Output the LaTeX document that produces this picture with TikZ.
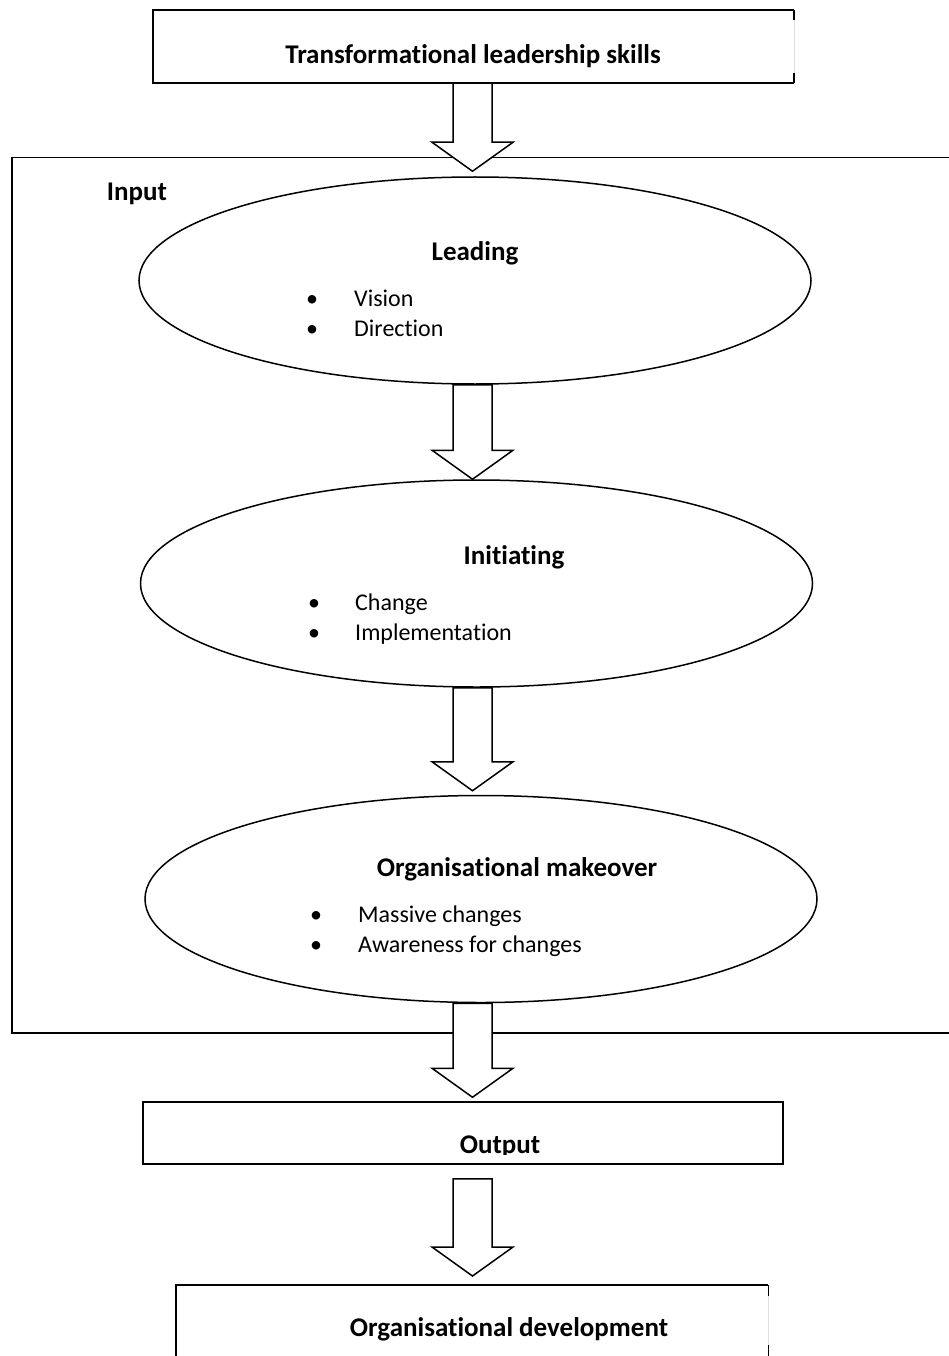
\documentclass[tikz,border=0pt]{standalone}
\usepackage{fontspec}
\setmainfont{Carlito}[Ligatures=NoCommon]
\usetikzlibrary{shapes.geometric,calc,positioning}

% block arrow: from, to, gap at start, gap at tip
\newcommand{\blockarrow}[4]{%
\path ($(#1)+(0,#3)$) coordinate (ba-s) ($(#2)+(0,-#4)$) coordinate (ba-t);
\draw[blockarrow] ($(ba-s)+(-19.5,0)$) -- ($(ba-t)+(-19.5,-29)$) -- ($(ba-t)+(-40.5,-29)$) -- (ba-t)
  -- ($(ba-t)+(40.5,-29)$) -- ($(ba-t)+(19.5,-29)$) -- ($(ba-s)+(19.5,0)$) -- cycle;
}

\begin{document}
\begin{tikzpicture}[x=1pt,y=-1pt,
  frame/.style={line width=1.5pt},
  oval/.style={draw,ellipse,line width=1.5pt,minimum width=672pt,minimum height=207pt,inner sep=0pt},
  title/.style={font=\bfseries\fontsize{27}{31}\selectfont,inner sep=0pt,anchor=base},
  item/.style={font=\fontsize{24}{28}\selectfont,inner sep=0pt,anchor=base west},
  dot/.style={font=\fontsize{24}{28}\selectfont,inner sep=0pt,anchor=base},
  blockarrow/.style={draw,fill=white,line width=1.5pt,line join=miter}]
\clip (0,0) rectangle (949,1356);
\coordinate (axis) at (472.5,0);

% top box
\node[minimum width=641pt,minimum height=73pt,inner sep=0pt] (skillsbox) at (473.5,46.5) {};
\draw[frame] (skillsbox.north east) -- (skillsbox.north west) -- (skillsbox.south west) -- (skillsbox.south east);
\draw[gray!25,line width=0.8pt] (skillsbox.north east) -- (skillsbox.south east);
\draw[frame] (skillsbox.north east) -- ++(0,10) (skillsbox.south east) -- ++(0,-10);
\node[title] (skills) at (473,64) {Transformational leadership skills};

% input frame
\node[draw,frame,anchor=north west,minimum width=1000pt,minimum height=875pt,inner sep=0pt] (inputbox) at (11,157) {};
\node[title] (input) at (137,201) {Input};

\node[oval] (leading) at (475,280.5) {};
\node[title] (leadingtitle) at (475,261) {Leading};
\node[dot] (dot11) at (312,306) {•};
\node[item] (vision) at (354,306) {Vision};
\node[dot] (dot12) at (312,336) {•};
\node[item] (direction) at (354,336) {Direction};

\node[oval] (initiating) at (476.5,583.5) {};
\node[title] (initiatingtitle) at (514,564) {Initiating};
\node[dot] (dot21) at (314,610) {•};
\node[item] (change) at (355,610) {Change};
\node[dot] (dot22) at (314,640) {•};
\node[item] (implementation) at (355,640) {Implementation};

\node[oval] (makeover) at (481,899) {};
\node[title] (makeovertitle) at (517,876) {Organisational makeover};
\node[dot] (dot31) at (316,922) {•};
\node[item] (massive) at (358,922) {Massive changes};
\node[dot] (dot32) at (316,952) {•};
\node[item] (awareness) at (358,952) {Awareness for changes};

% output box
\node[draw,frame,minimum width=640pt,minimum height=62pt,inner sep=0pt] (outputbox) at (463,1133) {};
\begin{scope}
\clip (outputbox.north west) rectangle ($(outputbox.south east)+(0,-10)$);
\node[title] (output) at (500,1153) {Output};
\end{scope}

% development box
\node[anchor=north west,minimum width=592pt,minimum height=100pt,inner sep=0pt] (devbox) at (176,1285) {};
\draw[frame] (devbox.south west) -- (devbox.north west) -- (devbox.north east);
\draw[gray!25,line width=0.8pt] (devbox.north east) -- (devbox.south east);
\draw[frame] (devbox.north east) -- ++(0,11) (devbox.east |- 0,1345) -- (devbox.east |- 0,1356);
\node[title] (dev) at (509,1336) {Organisational development};

\blockarrow{skillsbox.south -| axis}{leading.north -| axis}{0}{5}
\blockarrow{leading.south -| axis}{initiating.north -| axis}{0}{0}
\blockarrow{initiating.south -| axis}{makeover.north -| axis}{0}{4}
\blockarrow{makeover.south -| axis}{outputbox.north -| axis}{0}{4}
\blockarrow{outputbox.south -| axis}{devbox.north -| axis}{14}{9}
\end{tikzpicture}
\end{document}
